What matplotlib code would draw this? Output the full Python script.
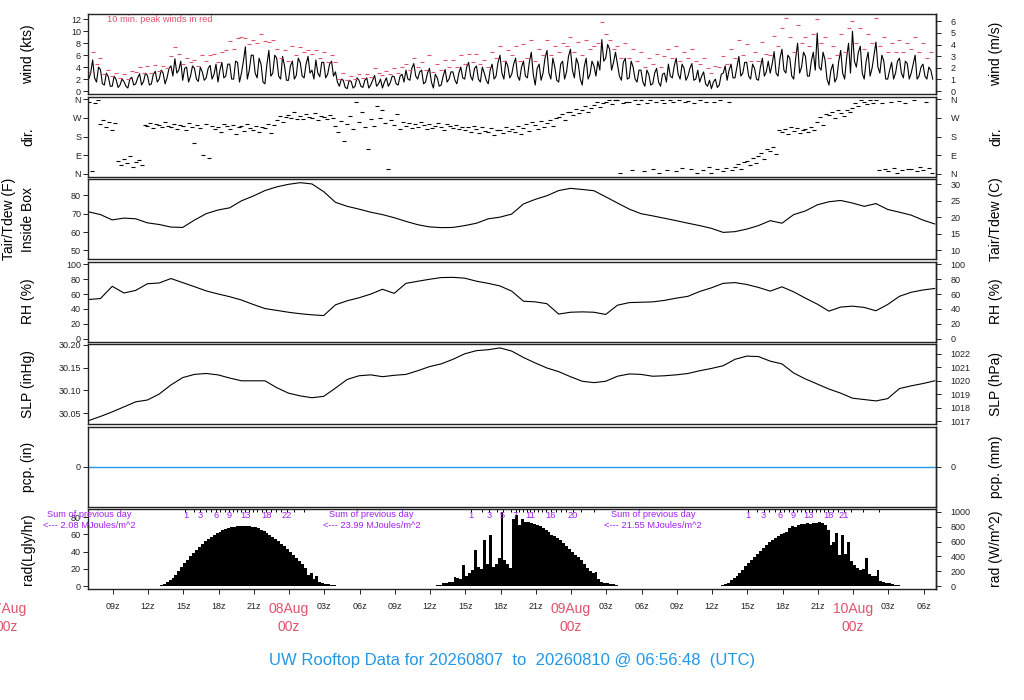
import numpy as np
import matplotlib
matplotlib.use('Agg')
import matplotlib.pyplot as plt
import matplotlib.transforms as mtrans

plt.rcParams['font.family'] = ['Liberation Sans', 'DejaVu Sans']

# ---------------- data ----------------
START_HR = 6.95   # data start, hours after 07Aug 00z (07Aug 06:57z)

# 10-minute mean wind (kts), one row per hour (07Aug 07z ... 10Aug 06z)
wind_kts = [
    2.0, 3.0, 5.2, 2.2, 1.5, 4.0,   3.6, 1.2, 1.0, 3.0, 2.4, 0.8,
    0.8, 2.5, 1.9, 0.6, 1.0, 2.0,   1.6, 0.8, 0.5, 2.0, 2.3, 1.0,
    1.2, 2.2, 2.9, 1.0, 1.6, 3.0,   2.6, 1.0, 1.2, 2.8, 3.3, 1.5,
    2.0, 3.5, 3.0, 1.2, 2.2, 3.8,   4.2, 2.5, 5.4, 3.0, 3.5, 5.0,
    1.8, 3.8, 4.0, 1.5, 2.5, 4.2,   3.8, 2.0, 1.6, 4.0, 3.2, 1.8,
    2.2, 3.8, 4.3, 2.0, 2.8, 4.5,   1.5, 3.5, 4.8, 2.2, 2.5, 4.5,
    4.5, 2.0, 2.0, 5.0, 4.8, 1.5,   3.0, 5.0, 7.4, 2.0, 3.5, 6.0,
    6.0, 3.0, 2.2, 5.5, 4.5, 1.5,   1.2, 4.5, 6.8, 2.5, 3.0, 6.0,
    5.5, 2.5, 2.0, 5.8, 4.2, 1.8,   1.8, 4.2, 5.0, 2.0, 2.6, 5.5,
    4.8, 2.5, 2.2, 4.5, 5.8, 3.0,   3.5, 2.0, 5.2, 3.0, 2.4, 4.8,
    4.8, 2.2, 2.8, 4.5, 5.0, 2.5,   3.2, 1.5, 0.8, 2.0, 1.8, 0.6,
    0.4, 1.8, 1.6, 0.5, 0.8, 2.2,   1.8, 0.8, 0.6, 1.8, 2.2, 0.5,
    1.0, 1.8, 2.6, 0.8, 1.2, 2.0,   0.5, 1.5, 2.2, 0.8, 1.4, 2.5,
    2.4, 1.2, 1.0, 2.5, 2.8, 1.5,   3.5, 2.0, 1.8, 3.8, 4.6, 2.5,
    2.0, 3.2, 3.5, 1.2, 1.5, 3.0,   3.8, 1.5, 0.5, 2.8, 2.2, 0.8,
    1.0, 2.5, 3.6, 1.5, 2.0, 3.2,   3.2, 1.8, 1.2, 3.0, 4.0, 2.2,
    2.0, 4.0, 4.8, 2.5, 1.8, 3.8,   4.2, 2.0, 1.5, 4.0, 3.0, 1.8,
    1.2, 3.5, 4.5, 2.0, 2.5, 4.8,   6.0, 3.0, 2.0, 5.0, 4.2, 2.2,
    2.8, 4.5, 5.5, 2.5, 1.8, 4.0,   5.0, 2.5, 2.2, 4.8, 6.5, 2.8,
    1.0, 3.8, 4.5, 1.8, 3.0, 5.5,   6.8, 3.0, 2.0, 5.5, 4.0, 1.8,
    1.5, 4.5, 5.0, 2.0, 3.2, 5.8,   7.0, 3.5, 2.2, 5.5, 4.5, 2.0,
    1.0, 4.0, 5.5, 2.0, 2.8, 5.0,   4.2, 2.5, 5.0, 3.5, 8.6, 5.0,
    5.5, 7.8, 7.0, 3.5, 4.8, 6.5,   4.5, 2.5, 1.8, 4.8, 5.5, 2.0,
    2.2, 5.0, 4.0, 2.0, 1.5, 3.5,   3.5, 1.5, 0.8, 3.5, 2.8, 1.0,
    1.2, 3.0, 3.8, 1.5, 0.8, 2.8,   3.0, 1.5, 4.5, 2.5, 2.2, 4.2,
    5.5, 2.8, 2.0, 4.5, 3.8, 1.8,   2.5, 3.8, 4.6, 1.8, 2.0, 3.5,
    1.5, 2.5, 3.2, 1.2, 0.8, 1.8,   0.4, 1.5, 2.0, 0.6, 1.0, 2.8,
    3.0, 4.2, 1.8, 3.5, 4.5, 2.2,   2.2, 4.0, 5.8, 2.5, 3.0, 4.8,
    4.8, 2.5, 2.0, 4.5, 3.8, 2.0,   1.8, 4.0, 5.5, 2.5, 3.2, 5.0,
    3.0, 4.5, 6.6, 3.0, 2.5, 5.5,   7.0, 3.5, 3.0, 6.0, 5.5, 2.5,
    2.0, 5.5, 8.0, 3.0, 4.0, 6.5,   5.8, 2.5, 2.5, 5.0, 6.5, 3.5,
    9.7, 4.0, 3.5, 6.5, 5.2, 2.0,   1.0, 3.5, 4.5, 1.5, 2.2, 5.0,
    6.8, 3.0, 2.0, 5.5, 8.0, 3.0,   10.0, 5.0, 4.0, 6.5, 7.5, 3.0,
    2.0, 5.0, 6.5, 2.5, 3.8, 6.0,   8.2, 4.0, 3.0, 6.0, 5.0, 2.0,
    2.0, 3.5, 4.8, 2.0, 3.0, 5.0,   5.5, 3.0, 2.2, 5.0, 4.6, 2.0,
    3.0, 4.5, 6.0, 2.0, 2.5, 4.0,   4.5, 2.5, 2.0, 4.0, 3.5, 2.0]

# 20-minute peak wind (kts)
gust_kts = [
    3.2, 6.5, 4.5, 5.5, 2.8, 3.6, 2.5, 3.0, 2.2, 2.8, 2.0, 3.4, 3.2, 4.0, 3.0,
    4.2, 3.0, 4.4, 3.3, 4.2, 3.8, 5.8, 7.3, 6.2, 4.5, 5.5, 4.8, 5.2, 4.2, 6.0,
    5.0, 6.0, 6.2, 4.8, 6.5, 6.8, 8.4, 7.0, 8.8, 9.0, 8.8, 7.8, 8.5, 8.0, 9.5,
    8.4, 8.2, 8.6, 7.0, 5.5, 6.8, 5.0, 7.5, 6.0, 7.4, 6.5, 6.8, 6.2, 6.8, 5.5,
    6.5, 4.8, 6.0, 4.8, 2.0, 3.0, 1.8, 2.5, 2.0, 2.8, 2.2, 2.8, 2.4, 3.8, 3.0,
    2.6, 3.4, 2.8, 3.8, 3.0, 4.0, 4.5, 3.6, 5.5, 4.0, 4.8, 3.5, 6.0, 3.2, 4.5,
    3.5, 5.2, 4.0, 5.2, 4.0, 6.0, 4.5, 6.2, 4.8, 6.2, 4.5, 5.2, 4.0, 6.5, 5.5,
    7.5, 5.0, 6.8, 6.0, 7.5, 5.0, 7.8, 5.5, 8.5, 5.0, 7.0, 6.0, 8.5, 6.0, 7.5,
    6.5, 8.0, 7.5, 9.0, 6.5, 8.2, 6.0, 8.5, 7.0, 7.5, 8.0, 11.5, 9.5, 8.5, 7.0,
    7.5, 5.5, 8.0, 5.5, 7.0, 5.0, 6.5, 4.0, 5.5, 4.5, 6.2, 4.0, 5.8, 7.0, 5.5,
    7.5, 5.0, 6.5, 5.5, 7.0, 5.0, 4.5, 5.5, 3.8, 3.0, 4.2, 4.0, 5.8, 4.5, 7.0,
    5.5, 8.5, 6.0, 7.8, 5.0, 6.5, 5.0, 8.2, 6.2, 6.0, 9.2, 7.5, 10.5, 12.3, 9.0,
    6.5, 11.0, 8.0, 9.0, 7.5, 9.5, 12.0, 8.0, 9.0, 5.5, 7.5, 6.0, 9.5, 6.5, 10.5,
    11.8, 8.0, 10.5, 7.0, 9.5, 8.0, 12.3, 7.5, 9.0, 6.5, 8.0, 6.5, 8.5, 6.5, 8.0,
    7.0, 9.0, 6.5, 8.0, 5.5, 6.5]

# 15-minute wind direction (deg)
wdir_deg = [
    350, 10, 345, 355, 240, 260, 225, 250, 210, 245, 60, 40, 70, 50, 85, 30,
    55, 65, 40, 235, 230, 245, 220, 240, 235, 225, 250, 230, 225, 240, 215, 235,
    230, 210, 245, 225, 150, 235, 220, 90, 240, 75, 230, 215, 225, 200, 240, 230,
    215, 235, 190, 225, 230, 205, 240, 220, 210, 230, 200, 225, 220, 240, 195, 235,
    260, 280, 250, 275, 285, 270, 300, 265, 280, 265, 290, 275, 270, 295, 260, 280,
    275, 265, 285, 270, 230, 200, 255, 160, 240, 280, 215, 350, 250, 300, 225, 120,
    265, 230, 330, 270, 310, 245, 20, 260, 235, 290, 215, 250, 230, 245, 220, 240,
    225, 250, 235, 215, 240, 220, 230, 245, 225, 210, 240, 230, 220, 235, 215, 225,
    210, 225, 200, 230, 215, 195, 225, 205, 200, 220, 185, 210, 210, 195, 225, 205,
    215, 200, 230, 190, 220, 240, 205, 250, 235, 215, 255, 225, 245, 260, 230, 270,
    275, 290, 260, 300, 300, 285, 315, 295, 310, 330, 300, 320, 335, 350, 325, 345,
    350, 355, 340, 358, 355, 5, 345, 350, 350, 15, 355, 340, 355, 10, 345, 358,
    20, 350, 5, 355, 345, 15, 358, 350, 10, 355, 25, 350, 352, 20, 345, 5,
    358, 15, 350, 30, 5, 350, 20, 355, 10, 25, 350, 15, 30, 45, 20, 55,
    60, 40, 75, 50, 85, 100, 70, 120, 110, 130, 95, 210, 200, 215, 190, 225,
    205, 220, 195, 210, 215, 200, 225, 210, 250, 275, 235, 290, 285, 300, 270, 310,
    295, 280, 310, 300, 320, 345, 330, 355, 350, 340, 358, 345, 355, 15, 345, 20,
    10, 350, 25, 5, 352, 15, 345, 20, 20, 355, 10, 30, 15, 350, 25, 5]

# hourly values
temp_f = [
    71.0, 69.5, 66.6, 67.6, 67.2, 65.0, 64.1, 62.7, 62.5, 66.5,
    70.0, 72.0, 73.2, 77.0, 79.6, 82.6, 84.6, 86.0, 86.9, 86.2,
    82.0, 76.2, 74.0, 72.5, 70.8, 69.5, 67.8, 65.8, 64.0, 62.8,
    62.4, 62.5, 63.5, 64.8, 67.2, 68.1, 69.8, 75.3, 77.8, 79.8,
    82.6, 83.8, 83.2, 82.5, 79.2, 75.8, 72.5, 70.0, 68.8, 67.5,
    66.2, 64.8, 63.5, 62.0, 59.8, 60.2, 61.6, 63.5, 66.2, 64.8,
    69.5, 71.5, 74.8, 76.5, 77.2, 75.8, 74.0, 75.5, 72.3, 70.8,
    69.2, 66.5, 64.4]

rh_pct = [
    52.7, 54.0, 70.5, 61.5, 65.0, 74.0, 75.0, 81.0, 75.5, 70.0,
    64.3, 60.2, 56.5, 52.0, 46.0, 40.5, 38.0, 35.5, 33.5, 32.0,
    31.0, 45.5, 51.0, 55.0, 60.0, 66.5, 61.0, 74.5, 77.3, 80.0,
    82.3, 82.6, 81.5, 77.4, 74.5, 71.0, 64.0, 50.4, 49.5, 47.0,
    33.0, 35.5, 36.0, 35.5, 32.5, 45.0, 48.5, 49.0, 49.5, 51.5,
    54.5, 57.0, 63.5, 68.5, 74.5, 75.5, 73.0, 69.0, 64.0, 69.8,
    63.0, 54.5, 46.5, 37.0, 42.5, 43.7, 42.0, 37.5, 46.0, 57.0,
    62.5, 65.5, 67.6]

slp_inhg = [
    30.034, 30.043, 30.053, 30.064, 30.075, 30.079, 30.092, 30.112, 30.128, 30.135,
    30.137, 30.134, 30.127, 30.121, 30.121, 30.121, 30.106, 30.094, 30.088, 30.084,
    30.087, 30.105, 30.124, 30.132, 30.134, 30.130, 30.133, 30.135, 30.143, 30.152,
    30.158, 30.168, 30.180, 30.187, 30.189, 30.193, 30.186, 30.172, 30.160, 30.149,
    30.141, 30.130, 30.120, 30.117, 30.120, 30.131, 30.136, 30.135, 30.131, 30.132,
    30.134, 30.137, 30.143, 30.148, 30.154, 30.168, 30.175, 30.174, 30.164, 30.158,
    30.138, 30.125, 30.114, 30.103, 30.094, 30.083, 30.080, 30.077, 30.082, 30.104,
    30.110, 30.115, 30.121]

pcp_in = [0.0] * 73

# 15-minute solar radiation (W/m^2), one list per daylight period
rad_starts = [12.5, 36.25, 60.25]
rad_day1 = [1, 4, 12, 24, 51, 81, 111, 150, 200, 255,
            308, 355, 403, 450, 493, 530, 568, 602, 635, 663,
            690, 712, 735, 755, 772, 784, 795, 803, 808, 811,
            812, 811, 807, 802, 791, 777, 761, 740, 716, 690,
            665, 636, 605, 574, 535, 496, 456, 415, 375, 338,
            295, 248, 150, 170, 90, 130, 55, 40, 30, 22,
            15, 8, 3]
rad_day2 = [2, 8, 20, 35, 45, 60, 50, 125, 110, 90,
            286, 130, 170, 220, 487, 260, 230, 620, 300, 688,
            260, 300, 380, 1000, 350, 300, 250, 911, 955, 830,
            911, 870, 860, 848, 835, 820, 805, 785, 760, 725,
            695, 675, 651, 615, 580, 540, 500, 460, 425, 386,
            345, 300, 240, 208, 170, 190, 90, 55, 45, 40,
            30, 22, 12, 5]
rad_day3 = [2, 5, 15, 28, 40, 75, 110, 140, 175, 220,
            270, 315, 350, 395, 435, 475, 515, 555, 590, 620,
            650, 674, 700, 720, 735, 790, 805, 795, 830, 844,
            835, 850, 840, 845, 855, 866, 850, 821, 754, 560,
            600, 710, 420, 688, 430, 598, 340, 280, 240, 220,
            230, 375, 160, 130, 140, 219, 62, 52, 45, 35,
            22, 15, 8, 2]
rad_days = [rad_day1, rad_day2, rad_day3]
cum_labels = [[1, 3, 6, 9, 13, 18, 22], [1, 3, 5, 7, 11, 16, 20], [1, 3, 6, 9, 13, 18, 21]]
prev_day_sums = ['2.08', '23.99', '21.55']
day_names = ['07Aug', '08Aug', '09Aug', '10Aug']

TITLE = "UW Rooftop Data for 20260807  to  20260810 @ 06:56:48  (UTC)"

# ---------------- styles ----------------
RED = '#DF536B'
BLUE = '#2297E6'
PURPLE = '#A020F0'
INK = '#222222'
FW, FH = 1024, 700
X0, X1 = 88, 936
PH = 80
tops = [14, 96.5, 179, 261.5, 344, 426.5, 509]
XLIM = (6.89, 79.06)

fig = plt.figure(figsize=(FW / 100, FH / 100), dpi=100)
fig.patch.set_facecolor('white')

axes = []
for top in tops:
    ax = fig.add_axes([X0 / FW, 1 - (top + PH) / FH, (X1 - X0) / FW, PH / FH])
    ax.set_xlim(*XLIM)
    for s in ax.spines.values():
        s.set_linewidth(1.0)
        s.set_color(INK)
    ax.tick_params(axis='y', direction='out', length=3.5, width=0.7,
                   labelsize=6.5, pad=1.5, colors=INK)
    ax.tick_params(axis='x', bottom=False, labelbottom=False)
    axes.append(ax)


def right_axis(ax, fwd, inv, ticks, labels=None):
    sec = ax.secondary_yaxis('right', functions=(fwd, inv))
    sec.set_yticks(ticks)
    if labels is not None:
        sec.set_yticklabels(labels)
    sec.tick_params(direction='out', length=3.5, width=0.7, labelsize=6.5,
                    pad=7, colors=INK)
    sec.spines['right'].set_linewidth(1.0)
    sec.spines['right'].set_color(INK)
    return sec


def ylabels(i, left, right, left_outer=None):
    yc = 1 - (tops[i] + PH / 2) / FH
    if left_outer is not None:
        fig.text(9 / FW, yc, left_outer, rotation=90, ha='center', va='center', fontsize=10)
    fig.text(28 / FW, yc, left, rotation=90, ha='center', va='center', fontsize=10)
    fig.text(996 / FW, yc, right, rotation=90, ha='center', va='center', fontsize=10)


# time bases
t_wind = START_HR + np.arange(len(wind_kts)) / 6.0
t_gust = START_HR + np.arange(len(gust_kts)) / 3.0
t_dir = START_HR + np.arange(len(wdir_deg)) / 4.0
t_hr = START_HR + np.arange(len(temp_f))

# 1. wind
ax = axes[0]
ax.plot(t_wind, wind_kts, color='black', lw=0.8)
ax.plot(t_gust, gust_kts, ls='none', marker='_', color=RED, ms=3.2, mew=0.8)
ax.set_ylim(-0.5, 12.9)
ax.set_yticks(range(0, 13, 2))
right_axis(ax, lambda k: k * 0.514444, lambda m: m / 0.514444, range(0, 7))
ylabels(0, 'wind (kts)', 'wind (m/s)')
fig.text(107 / FW, 1 - 19.5 / FH, '10 min. peak winds in red', color=RED,
         fontsize=6.7, ha='left', va='center')

# 2. direction
ax = axes[1]
ax.plot(t_dir, wdir_deg, ls='none', marker='_', color='black', ms=3.2, mew=0.8)
ax.set_ylim(-14.4, 374.4)
ax.set_yticks([0, 90, 180, 270, 360])
ax.set_yticklabels(['N', 'E', 'S', 'W', 'N'])
right_axis(ax, lambda d: d, lambda d: d, [0, 90, 180, 270, 360], ['N', 'E', 'S', 'W', 'N'])
ylabels(1, 'dir.', 'dir.')

# 3. temperature
ax = axes[2]
ax.plot(t_hr, temp_f, color='black', lw=0.8)
ax.set_ylim(45.3, 88.9)
ax.set_yticks([50, 60, 70, 80])
right_axis(ax, lambda f: (f - 32) / 1.8, lambda c: c * 1.8 + 32, [10, 15, 20, 25, 30])
ylabels(2, 'Inside Box', 'Tair/Tdew (C)', left_outer='Tair/Tdew (F)')

# 4. RH
ax = axes[3]
ax.plot(t_hr, rh_pct, color='black', lw=0.8)
ax.set_ylim(-4, 104)
ax.set_yticks(range(0, 101, 20))
right_axis(ax, lambda r: r, lambda r: r, range(0, 101, 20))
ylabels(3, 'RH (%)', 'RH (%)')

# 5. SLP
ax = axes[4]
ax.plot(t_hr, slp_inhg, color='black', lw=0.8)
ax.set_ylim(30.0265, 30.2015)
ax.set_yticks([30.05, 30.10, 30.15, 30.20])
ax.set_yticklabels(['30.05', '30.10', '30.15', '30.20'])
right_axis(ax, lambda p: p * 33.8639, lambda h: h / 33.8639, range(1017, 1023))
ylabels(4, 'SLP (inHg)', 'SLP (hPa)')

# 6. precipitation
ax = axes[5]
ax.plot(t_hr, pcp_in, color=BLUE, lw=1.0)
ax.set_ylim(-1, 1)
ax.set_yticks([0])
right_axis(ax, lambda p: p * 25.4, lambda m: m / 25.4, [0])
ylabels(5, 'pcp. (in)', 'pcp. (mm)')

# 7. radiation
ax = axes[6]
LGLY = 11.622  # W/m^2 per Langley/hr
for st, vals in zip(rad_starts, rad_days):
    tt = st + 0.25 * np.arange(len(vals))
    ax.bar(tt, vals, width=0.25, align='edge', color='black', linewidth=0)
ax.set_ylim(-40, 1040)
ax.set_yticks([v * LGLY for v in range(0, 81, 20)])
ax.set_yticklabels([str(v) for v in range(0, 81, 20)])
right_axis(ax, lambda w: w, lambda w: w, range(0, 1001, 200))
ylabels(6, 'rad(Lgly/hr)', 'rad (W/m^2)')

# x axis ticks
xt = np.arange(9, 79, 3)
ax.tick_params(axis='x', bottom=True, labelbottom=True, direction='out',
               length=3.5, width=0.7, labelsize=6.5, pad=6, colors=INK)
ax.set_xticks(xt)
ax.set_xticklabels(['' if int(h) % 24 == 0 else '%02dz' % (int(h) % 24) for h in xt])
for k, name in enumerate(day_names):
    xpix = X0 + (24 * k - XLIM[0]) / (XLIM[1] - XLIM[0]) * (X1 - X0)
    fig.text(xpix / FW, 1 - 609 / FH, name, color=RED, fontsize=10, ha='center', va='center')
    fig.text(xpix / FW, 1 - 627 / FH, '00z', color=RED, fontsize=10, ha='center', va='center')

# cumulative energy ticks and labels (MJ/m^2) at the top of the radiation panel
btr = mtrans.blended_transform_factory(ax.transData, ax.transAxes)
for st, vals, labs in zip(rad_starts, rad_days, cum_labels):
    vals = np.asarray(vals, float)
    t_end = np.concatenate([[st], st + 0.25 * (np.arange(len(vals)) + 1)])
    cum = np.concatenate([[0.0], np.cumsum(vals) * 900 / 1e6])
    ks = np.arange(1, int(np.floor(cum[-1])) + 1)
    tk = np.interp(ks, cum, t_end)
    ax.vlines(tk, 0.962, 1.0, transform=btr, color='black', lw=0.7)
    for k in labs:
        if k <= cum[-1]:
            ax.text(np.interp(k, cum, t_end), 0.925, str(k), transform=btr, color=PURPLE,
                    fontsize=6.7, ha='center', va='center')

for k, s in enumerate(prev_day_sums):
    tx = 24 * k + 7.0
    ax.text(tx, 0.929, 'Sum of previous day', transform=btr, color=PURPLE,
            fontsize=6.7, ha='center', va='center', clip_on=False)
    ax.text(tx, 0.791, '<--- %s MJoules/m^2' % s, transform=btr, color=PURPLE,
            fontsize=6.7, ha='center', va='center', clip_on=False)

fig.text(0.5, 1 - 660 / FH, TITLE, color=BLUE, fontsize=12, ha='center', va='center')

fig.savefig('out.png', dpi=100, facecolor='white')
